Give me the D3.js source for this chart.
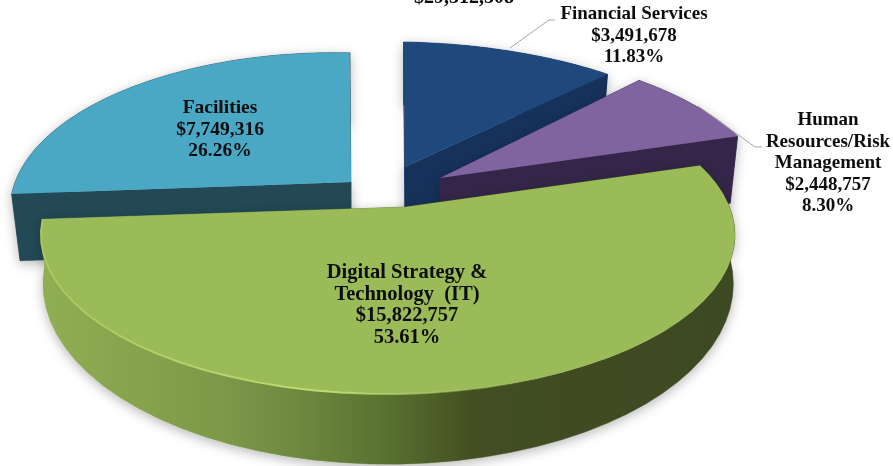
<!DOCTYPE html>
<html><head><meta charset="utf-8">
<script src="https://cdn.jsdelivr.net/npm/d3@7"></script>
<style>html,body{margin:0;padding:0;background:#fff}svg{display:block}text{font-family:"Liberation Serif",serif;font-weight:700;fill:#0d0d0d;text-anchor:middle}</style>
</head><body><svg id="c" width="893" height="466"></svg>
<script>
const categories = ["Financial Services","Human Resources/Risk Management","Digital Strategy & Technology (IT)","Facilities"];
const values = [3491678,2448757,15822757,7749316];
const percents = ["11.83%","8.30%","53.61%","26.26%"];
const totalLabel = "$29,512,508";

// layout: where each exploded slice sits and how the 3D look is drawn
const topColors = ["#1f497d","#8064a0","#9bbb59","#4aa8c4"];
const sideColors = ["#12305a","#35264a","url(#greenSide)","#234854"];
const apex = [[405,167],[440,178],[405,207],[351,182]];
const radii = [[356,152],[350,160],[347,159],[325,157]];
const depth = [60,66,45,67];
const baseX = [0.975,0.975,0.995,0.975];
const baseY = [0.975,0.975,1.135,0.975];
const tilt = {x:0.049,y:0.176}; // perspective: where the pie centre lands inside its ellipse
const drawOrder = [3,0,1,2];
const labelLines = [
  ["Financial Services"],
  ["Human","Resources/Risk","Management"],
  ["Digital Strategy &","Technology  (IT)"],
  ["Facilities"]];
const labelPos = [[634,19],[828,125],[407,278],[220,113]];
const labelSize = [19,19,20.5,19.5];
const leaders = [[[510,48],[549,20],[555,20]],[[698,106],[755,147],[762,147]]];

const svg = d3.select("#c");
const defs = svg.append("defs");
const g = defs.append("linearGradient").attr("id","greenSide").attr("gradientUnits","userSpaceOnUse")
  .attr("x1",45).attr("x2",735).attr("y1",0).attr("y2",0);
[[0,"#90ae52"],[0.25,"#7d9949"],[0.36,"#6f8a3f"],[0.5,"#58702f"],[0.62,"#434f22"],[0.8,"#3f4b21"],[1,"#3e4a20"]]
  .forEach(([o,c])=>g.append("stop").attr("offset",o).attr("stop-color",c));
const hl = defs.append("linearGradient").attr("id","rimLight").attr("gradientUnits","userSpaceOnUse")
  .attr("x1",45).attr("x2",560).attr("y1",0).attr("y2",0);
[[0,"#a9c65f",1],[0.55,"#c0dc72",1],[1,"#9bbb59",0]]
  .forEach(([o,c,a])=>hl.append("stop").attr("offset",o).attr("stop-color",c).attr("stop-opacity",a));
const f = defs.append("filter").attr("id","shadow").attr("x","-10%").attr("y","-10%").attr("width","120%").attr("height","125%");
f.append("feDropShadow").attr("dx",0).attr("dy",3).attr("stdDeviation",6).attr("flood-color","#000").attr("flood-opacity",0.28);
defs.append("filter").attr("id","soft").append("feGaussianBlur").attr("stdDeviation",0.7);
defs.append("filter").attr("id","jpeg").attr("x","0").attr("y","0").attr("width","100%").attr("height","100%")
  .append("feGaussianBlur").attr("stdDeviation",0.35);

const arcs = d3.pie().sort(null)(values);
const s = Math.hypot(tilt.x,tilt.y), ex = tilt.x/s, ey = tilt.y/s;
function project(theta){ // unit circle angle (clockwise from top) -> offset from apex, unit ellipse
  const dx = Math.sin(theta), dy = Math.cos(theta);
  const a = dx*ex+dy*ey, b = dx*ey-dy*ex;
  const w = 1+s*a, a2 = (a+s)/w, b2 = b*Math.sqrt(1-s*s)/w;
  return [a2*ex+b2*ey-tilt.x, a2*ey-b2*ex-tilt.y];
}
const line = d3.line();
const rim = (i,t0,t1,lower) => d3.range(0,49).map(k=>{
  const t = t0+(t1-t0)*k/48, p = project(t);
  const sx = lower?baseX[i]:1, sy = lower?baseY[i]:1;
  return [apex[i][0]+p[0]*radii[i][0]*sx, apex[i][1]-p[1]*radii[i][1]*sy+(lower?depth[i]:0)];
});
const chart = svg.append("g");
drawOrder.forEach(i=>{
  const d = arcs[i], A = apex[i];
  const top = rim(i,d.startAngle,d.endAngle,false), bot = rim(i,d.startAngle,d.endAngle,true);
  const gg = chart.append("g");
  const low = [A[0],A[1]+depth[i]];
  const side = gg.append("g").attr("filter","url(#shadow)");
  const faces = [
    [A,top[0],bot[0],low],
    [A,top[48],bot[48],low],
    top.concat(bot.slice().reverse())
  ];
  side.selectAll("path").data(faces).join("path")
    .attr("d",p=>line(p)+"Z").attr("fill",sideColors[i]).attr("stroke",sideColors[i]).attr("stroke-width",0.5);
  gg.append("path").attr("d",line([A].concat(top))+"Z").attr("fill",topColors[i]);
  if(i===2){
    gg.append("path").attr("d",line(rim(i,d.startAngle,d.endAngle,false).filter((p,k)=>k>14)))
      .attr("fill","none").attr("stroke","url(#rimLight)").attr("stroke-width",2).attr("filter","url(#soft)");
  }
});
svg.selectAll(".leader").data(leaders).join("path").attr("class","leader")
  .attr("d",d=>line(d)).attr("fill","none").attr("stroke","#a6a6a6").attr("stroke-width",1);

const fmt = d3.format("$,");
const labels = svg.append("g").attr("filter","url(#jpeg)");
categories.forEach((c,i)=>{
  const lines = labelLines[i].concat([fmt(values[i]),percents[i]]);
  labels.append("g").attr("font-size",labelSize[i]).selectAll("text").data(lines).join("text")
    .attr("x",labelPos[i][0]).attr("y",(t,k)=>labelPos[i][1]+k*21.6).text(t=>t).style("white-space","pre");
});
labels.append("text").attr("x",464).attr("y",3).attr("font-size",20).text(totalLabel);
</script></body></html>
